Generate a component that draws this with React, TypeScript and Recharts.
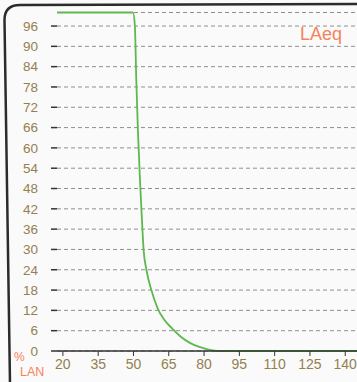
import { LineChart, Line, XAxis, YAxis, CartesianGrid } from 'recharts';

// sound level (dB) vs exceedance percentage
const levels = [17.5, 49.8, 50.6, 51.2, 51.9, 52.8, 53.8, 54.3, 55.5, 57.6, 60.4, 63, 66.5, 70, 74, 78, 82.4, 86, 145];
const percents = [100, 100, 96, 80, 65, 50, 36, 30, 24, 18, 12.4, 9.3, 6.6, 4.3, 2.4, 1.2, 0.3, 0, 0];
const xTicks = [20, 35, 50, 65, 80, 95, 110, 125, 140];
const yTicks = [0, 6, 12, 18, 24, 30, 36, 42, 48, 54, 60, 66, 72, 78, 84, 90, 96];

const data = levels.map((l, i) => ({ level: l, pct: percents[i] }));

const labelColor = '#94804f';
const orange = '#f5835a';
const font = '"Liberation Sans", Arial, sans-serif';

export default function App() {
  return (
    <div
      style={{
        position: 'absolute',
        left: 0,
        top: 0,
        width: 357,
        height: 382,
        overflow: 'hidden',
        background: '#fafafb',
        fontFamily: font,
      }}
    >
      <svg width={357} height={382} style={{ position: 'absolute', left: 0, top: 0 }}>
        <path d="M 10 384 L 4.5 20 Q 4.5 5 20 5 L 360 4" fill="none" stroke="#2b2b2b" strokeWidth={2.5} />
      </svg>
      <div style={{ position: 'absolute', left: 0, top: 0 }}>
        <LineChart width={357} height={382} data={data} margin={{ top: 12.5, right: 0, left: 0, bottom: 6 }}>
          <CartesianGrid vertical={false} stroke="#8f8f8f" strokeDasharray="4 3" />
          <XAxis
            dataKey="level"
            type="number"
            domain={[17.5, 145]}
            ticks={xTicks}
            height={25}
            tick={{ fontSize: 14, fill: labelColor, fontFamily: font }}
            tickSize={5}
            tickMargin={3}
            axisLine={{ stroke: '#333', strokeWidth: 1.5 }}
            tickLine={{ stroke: '#333' }}
            allowDataOverflow
          />
          <YAxis
            type="number"
            domain={[0, 100]}
            ticks={yTicks}
            width={57}
            interval={0}
            tick={{ fontSize: 13.5, fill: labelColor, fontFamily: font }}
            tickSize={6}
            tickMargin={13}
            axisLine={false}
            tickLine={{ stroke: '#333', strokeWidth: 1.5 }}
          />
          <Line
            type="monotone"
            dataKey="pct"
            stroke="#5db94d"
            strokeWidth={1.8}
            dot={false}
            isAnimationActive={false}
          />
        </LineChart>
      </div>
      <div style={{ position: 'absolute', right: 15, top: 24, fontSize: 18, color: orange }}>LAeq</div>
      <div style={{ position: 'absolute', left: 14, top: 350, fontSize: 12, color: orange }}>%</div>
      <div style={{ position: 'absolute', left: 20, top: 365, fontSize: 12.5, color: orange }}>LAN</div>
    </div>
  );
}
